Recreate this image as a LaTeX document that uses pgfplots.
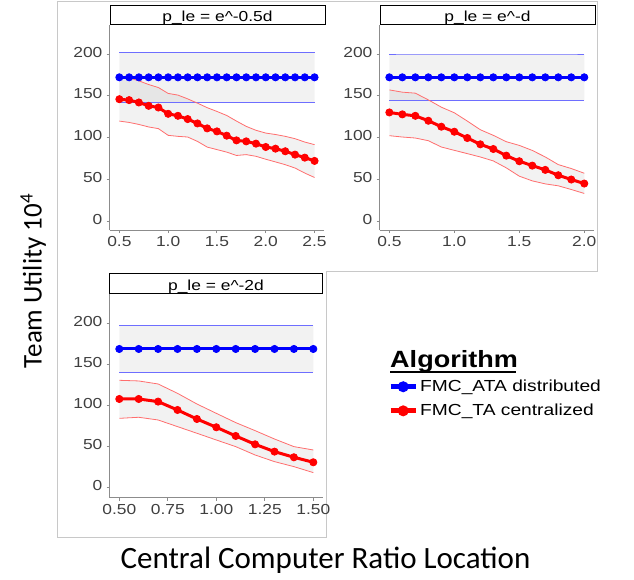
\documentclass[border=0pt]{standalone}
\usepackage{fontspec}
\setmainfont{Liberation Sans}
\newfontfamily\calibri{Carlito}
\usepackage{graphicx}
\usepackage{pgfplots}
\usepackage{pgfplotstable}
\pgfplotsset{compat=1.18}
\usepgfplotslibrary{fillbetween}

\definecolor{axisgray}{HTML}{8C8C8C}
\definecolor{labgray}{HTML}{3F3F3F}
\definecolor{framegray}{HTML}{C8C8C8}
\definecolor{bandblue}{HTML}{6E6EFF}
\definecolor{bandred}{HTML}{FF6E6E}

% p_le = e^-0.5d
\pgfplotstableread{
x   rm    rlo   rhi   bm    blo   bhi
0.5 146.1 120.0 172.0 172.2 142.0 202.0
0.6 145.0 118.4 171.5 172.2 142.0 202.0
0.7 142.2 116.0 168.0 172.2 142.0 202.0
0.8 138.2 113.0 163.6 172.2 142.0 202.0
0.9 136.2 111.0 160.0 172.2 142.0 202.0
1.0 128.7 103.0 153.0 172.2 142.0 202.0
1.1 126.3 101.8 151.0 172.2 142.0 202.0
1.2 122.4 101.0 146.5 172.2 142.0 202.0
1.3 117.2  95.8 141.4 172.2 142.0 202.0
1.4 111.3  89.0 136.0 172.2 142.0 202.0
1.5 107.7  86.0 131.5 172.2 142.0 202.0
1.6 102.6  83.0 126.7 172.2 142.0 202.0
1.7  97.0  79.0 120.0 172.2 142.0 202.0
1.8  95.8  80.0 113.7 172.2 142.0 202.0
1.9  93.1  78.0 109.0 172.2 142.0 202.0
2.0  89.1  74.5 105.7 172.2 142.0 202.0
2.1  87.1  71.3 104.0 172.2 142.0 202.0
2.2  84.0  68.0 101.8 172.2 142.0 202.0
2.3  80.0  64.0  99.0 172.2 142.0 202.0
2.4  76.4  58.0  95.0 172.2 142.0 202.0
2.5  72.5  52.7  91.9 172.2 142.0 202.0
}\panelA

% p_le = e^-d
\pgfplotstableread{
x   rm    rlo   rhi   bm    blo   bhi
0.5 130.3 102.6 157.2 172.2 145.1 200.0
0.6 128.0 101.0 154.5 172.2 145.1 200.0
0.7 126.3  99.8 153.3 172.2 145.1 200.0
0.8 120.4  96.6 145.3 172.2 145.1 200.0
0.9 113.3  89.1 136.6 172.2 145.1 200.0
1.0 107.3  85.1 129.9 172.2 145.1 200.0
1.1  99.8  81.2 120.0 172.2 145.1 200.0
1.2  92.3  77.2 109.7 172.2 145.1 200.0
1.3  86.7  72.5 103.0 172.2 145.1 200.0
1.4  78.8  64.2  95.4 172.2 145.1 200.0
1.5  72.1  54.3  91.0 172.2 145.1 200.0
1.6  66.9  48.7  85.0 172.2 145.1 200.0
1.7  61.8  45.1  77.2 172.2 145.1 200.0
1.8  55.4  42.8  68.1 172.2 145.1 200.0
1.9  50.3  38.4  63.4 172.2 145.1 200.0
2.0  45.5  33.7  57.8 172.2 145.1 200.0
}\panelB

% p_le = e^-2d
\pgfplotstableread{
x   rm    rlo   rhi   bm    blo   bhi
0.5 107.7 84.1 130.5 168.7 140.2 197.6
0.6 107.7 85.4 129.7 168.7 140.2 197.6
0.7 104.5 82.1 126.0 168.7 140.2 197.6
0.8  94.3 74.0 114.6 168.7 140.2 197.6
0.9  83.3 65.9 101.6 168.7 140.2 197.6
1.0  73.2 57.7  90.2 168.7 140.2 197.6
1.1  62.6 49.6  78.9 168.7 140.2 197.6
1.2  52.4 39.4  69.1 168.7 140.2 197.6
1.3  43.5 31.3  58.9 168.7 140.2 197.6
1.4  36.6 25.2  49.6 168.7 140.2 197.6
1.5  30.5 17.9  45.5 168.7 140.2 197.6
}\panelC

\pgfplotsset{
  panel/.style={
    scale only axis,
    axis lines*=left,
    axis line style={axisgray, line width=1pt},
    tick align=outside,
    major tick length=3pt,
    tick style={axisgray, line width=1pt},
    ytick={0,50,100,150,200},
    /pgf/number format/assume math mode=true,
    tick label style={font=\fontsize{14.5}{14.5}\selectfont, text=labgray, xscale=1.2},
    yticklabel style={yshift=2pt},
    legend image code/.code={\draw[mark repeat=2,mark phase=2,#1] plot coordinates {(0pt,0pt) (12.5pt,0pt) (25pt,0pt)};},
  },
  band/.style={line width=0.8pt, mark=none},
  mainline/.style={line width=3pt, mark=*, mark size=3.6pt, mark options={line width=0.8pt}},
}

\begin{document}
\begin{tikzpicture}
\path (0pt,0pt) rectangle (634pt,-580pt);

% image frames
\draw[framegray, line width=1pt] (57pt,-2pt) -- (597pt,-2pt) -- (597pt,-271pt) -- (326pt,-271pt) -- (326pt,-537pt) -- (57pt,-537pt) -- cycle;

% panel 1
\begin{axis}[panel, at={(109.6pt,-230pt)}, anchor=south west,
  width=214.7pt, height=205pt,
  xmin=0.4, xmax=2.6, ymin=-9.9, ymax=234.6,
  xtick={0.5,1.0,1.5,2.0,2.5},
  xticklabel style={/pgf/number format/.cd, fixed, fixed zerofill, precision=1}]
  \addplot[band, bandblue, name path=bh] table[x=x, y=bhi] {\panelA};
  \addplot[band, bandblue, name path=bl] table[x=x, y=blo] {\panelA};
  \addplot[fill=black, fill opacity=0.05, draw=none] fill between[of=bh and bl];
  \addplot[band, bandred, name path=rh] table[x=x, y=rhi] {\panelA};
  \addplot[band, bandred, name path=rl] table[x=x, y=rlo] {\panelA};
  \addplot[fill=black, fill opacity=0.05, draw=none] fill between[of=rh and rl];
  \addplot[mainline, blue] table[x=x, y=bm] {\panelA};
  \addplot[mainline, red] table[x=x, y=rm] {\panelA};
\end{axis}

% panel 2
\begin{axis}[panel, at={(379.6pt,-230pt)}, anchor=south west,
  width=214.4pt, height=205pt,
  xmin=0.425, xmax=2.075, ymin=-9.9, ymax=234.6,
  xtick={0.5,1.0,1.5,2.0},
  xticklabel style={/pgf/number format/.cd, fixed, fixed zerofill, precision=1}]
  \addplot[band, bandblue, name path=bh] table[x=x, y=bhi] {\panelB};
  \addplot[band, bandblue, name path=bl] table[x=x, y=blo] {\panelB};
  \addplot[fill=black, fill opacity=0.05, draw=none] fill between[of=bh and bl];
  \addplot[band, bandred, name path=rh] table[x=x, y=rhi] {\panelB};
  \addplot[band, bandred, name path=rl] table[x=x, y=rlo] {\panelB};
  \addplot[fill=black, fill opacity=0.05, draw=none] fill between[of=rh and rl];
  \addplot[mainline, blue] table[x=x, y=bm] {\panelB};
  \addplot[mainline, red] table[x=x, y=rm] {\panelB};
\end{axis}

% panel 3 (carries the legend)
\begin{axis}[panel, at={(109.6pt,-497.7pt)}, anchor=south west,
  width=213.4pt, height=204.4pt,
  xmin=0.45, xmax=1.55, ymin=-12.7, ymax=236.6,
  xtick={0.5,0.75,1.0,1.25,1.5},
  xticklabel style={/pgf/number format/.cd, fixed, fixed zerofill, precision=2},
  legend style={at={(axis description cs:1.3046,0.5856)}, anchor=north west,
    draw=none, fill=none, inner sep=0pt, row sep=7pt,
    font=\fontsize{16}{18}\selectfont, cells={anchor=west}}]
  \addlegendimage{blue, line width=5pt, mark=*, mark size=5pt, mark options={line width=1pt}}
  \addlegendentry{\scalebox{1.2}[1]{FMC\_ATA distributed}}
  \addlegendimage{red, line width=5pt, mark=*, mark size=5pt, mark options={line width=1pt}}
  \addlegendentry{\scalebox{1.2}[1]{FMC\_TA centralized}}
  \addplot[band, bandblue, name path=bh] table[x=x, y=bhi] {\panelC};
  \addplot[band, bandblue, name path=bl] table[x=x, y=blo] {\panelC};
  \addplot[fill=black, fill opacity=0.05, draw=none] fill between[of=bh and bl];
  \addplot[band, bandred, name path=rh] table[x=x, y=rhi] {\panelC};
  \addplot[band, bandred, name path=rl] table[x=x, y=rlo] {\panelC};
  \addplot[fill=black, fill opacity=0.05, draw=none] fill between[of=rh and rl];
  \addplot[mainline, blue] table[x=x, y=bm] {\panelC};
  \addplot[mainline, red] table[x=x, y=rm] {\panelC};
\end{axis}

% facet strips
\draw[black, line width=1pt, fill=white] (110pt,-5.7pt) rectangle (325pt,-25pt);
\draw[black, line width=1pt, fill=white] (380pt,-5.7pt) rectangle (595pt,-25pt);
\draw[black, line width=1pt, fill=white] (109.3pt,-273.3pt) rectangle (322.7pt,-293.3pt);
\begin{scope}[every node/.style={anchor=base, inner sep=0pt, font=\fontsize{14.5}{14.5}\selectfont, xscale=1.2}]
\node at (217.5pt,-21.7pt) {p\_le = e\textasciicircum-0.5d};
\node at (487.5pt,-21.7pt) {p\_le = e\textasciicircum-d};
\node at (216pt,-290pt) {p\_le = e\textasciicircum-2d};
\end{scope}

% legend title
\node[anchor=base west, inner sep=0pt, font=\bfseries\fontsize{23.5}{23.5}\selectfont, xscale=1.15] at (390pt,-367.7pt) {Algorithm};
\draw[black, line width=2pt] (390pt,-371.7pt) -- (516pt,-371.7pt);

% axis titles
\node[anchor=base, inner sep=0pt, font=\calibri\fontsize{31}{31}\selectfont] at (325.5pt,-568pt) {Central Computer Ratio Location};
\node[anchor=base, rotate=90, inner sep=0pt, font=\calibri\fontsize{27}{27}\selectfont] at (41.7pt,-281pt) {Team Utility 10\textsuperscript{4}};
\end{tikzpicture}
\end{document}
